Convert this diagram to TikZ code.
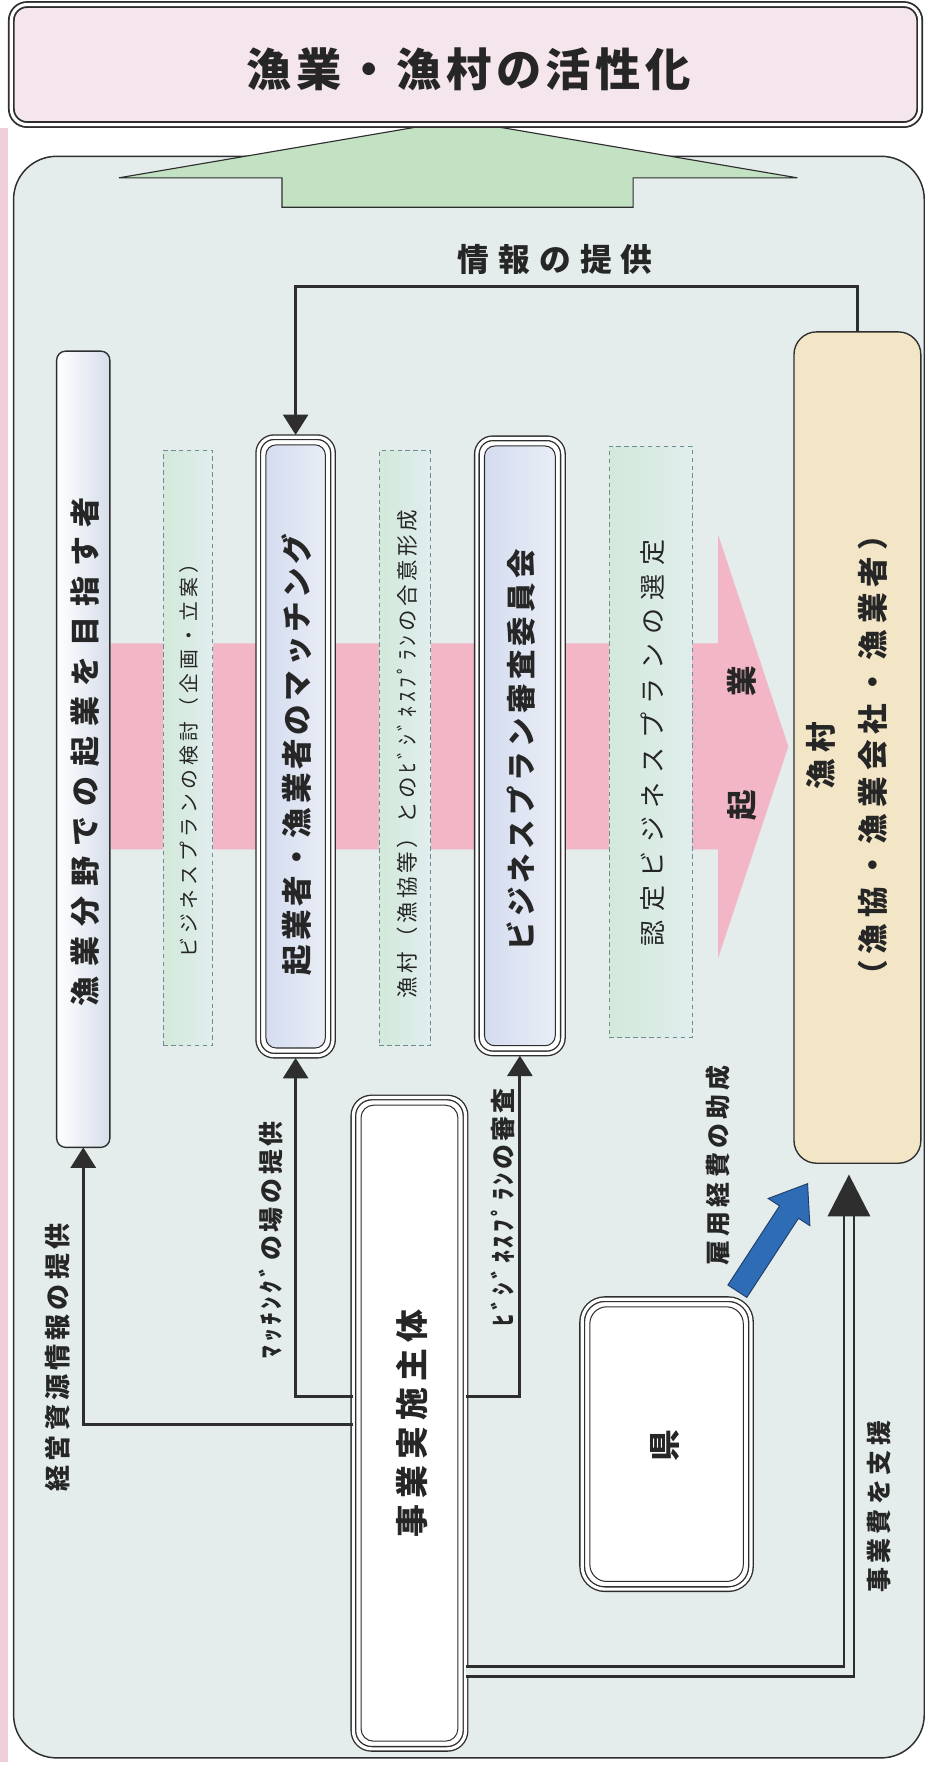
\documentclass[tikz,border=0pt]{standalone}
\usepackage{fontspec}
\setmainfont{Noto Sans CJK JP}
\usetikzlibrary{arrows.meta,calc}
\definecolor{dk}{HTML}{2E2E2E}
\definecolor{txt}{HTML}{262626}
\definecolor{panelC}{HTML}{E4ECEC}
\definecolor{titleC}{HTML}{F5E5EC}
\definecolor{greenC}{HTML}{C3E2C3}
\definecolor{pinkC}{HTML}{F2B6C7}
\definecolor{stripC}{HTML}{F0CFDA}
\definecolor{dashC}{HTML}{D3E9DA}
\definecolor{dashC2}{HTML}{E0EDEE}
\definecolor{dashL}{HTML}{6C8E92}
\definecolor{lavC}{HTML}{D4DCEF}
\definecolor{lavC2}{HTML}{E9EDF6}
\definecolor{beigeC}{HTML}{F2E6C7}
\definecolor{blueC}{HTML}{2F6CB6}
\definecolor{blueD}{HTML}{1E3E68}
\definecolor{wbC}{HTML}{D6DEEA}
\newcommand{\jt}[3]{\fontsize{#1}{#1}\selectfont\addfontfeature{LetterSpace=#2}#3}
\begin{document}
\begin{tikzpicture}[x=1pt,y=-1pt,
  box/.style={inner sep=0pt, outer sep=0pt},
  dbl/.style={box, draw=dk, line width=1.2pt, double=white, double distance=2.8pt},
  inb/.style={box, draw=dk, line width=0.9pt},
  dashbox/.style={box, draw=dashL, line width=0.9pt, dash pattern=on 4pt off 3pt, left color=dashC, right color=dashC2},
  lbl/.style={inner sep=0pt, text=txt, font=\bfseries},
  lblr/.style={inner sep=0pt, text=txt},
  conn/.style={draw=dk, line width=2.6pt, -{Triangle[length=18pt,width=22pt]}},
  dconn/.style={draw=dk, line width=2.4pt, double=panelC, double distance=6.4pt},
]
\useasboundingbox (0,0) rectangle (821,1568);
\fill[white] (0,0) rectangle (821,1568);
\fill[stripC] (0,113) rectangle (7,1556);
% main panel
\node[box, draw=dk, line width=1.3pt, fill=panelC, rounded corners=38pt,
      minimum width=804pt, minimum height=1414pt] (panel) at (414,845) {};
% green arrow up
\draw[draw=dk, line width=1pt, fill=greenC]
  (249,183) -- (249,157) -- (105,157) -- (404,106) -- (704,157) -- (559,157) -- (559,183) -- cycle;
% title
\node[dbl, line width=1.6pt, rounded corners=14pt, fill=titleC,
      minimum width=802pt, minimum height=106pt] (title) at (411,57) {};
\node[lbl] (titleT) at (414,61) {\jt{40}{10}{漁業・漁村の活性化}};
% pink arrow
\fill[pinkC] (98,568) -- (634,568) -- (634,472) -- (696,659) -- (634,846) -- (634,750) -- (98,750) -- cycle;
\node[lbl, rotate=90] (kiT) at (655,711) {\jt{27}{0}{起}};
\node[lbl, rotate=90] (gyoT) at (655,601) {\jt{27}{0}{業}};
% white box
\node[box, draw=dk, line width=1.2pt, rounded corners=8pt, left color=white, right color=wbC,
      minimum width=47pt, minimum height=703pt] (white) at (73.5,661.5) {};
\node[lbl, rotate=90] (whiteT) at (75,663.5) {\jt{26.5}{33}{漁業分野での起業を目指す者}};
% dashed boxes
\node[dashbox, minimum width=44pt, minimum height=525pt] (dash1) at (166,660.5) {};
\node[lblr, rotate=90] (dash1T) at (167,667) {\jt{17.5}{21}{ビジネスプランの検討（企画・立案）}};
\node[dashbox, minimum width=45pt, minimum height=525pt] (dash2) at (357.5,660.5) {};
\node[lblr, rotate=90] (dash2T) at (360,666) {\jt{19}{16}{漁村（漁協等）とのﾋﾞｼﾞﾈｽﾌﾟﾗﾝの合意形成}};
\node[dashbox, minimum width=73pt, minimum height=522pt] (dash3) at (574.5,655) {};
\node[lblr, rotate=90, font=\mdseries] (dash3T) at (576,656) {\jt{23}{33}{認定ビジネスプランの選定}};
% matching box
\node[dbl, rounded corners=14pt, fill=white, minimum width=66pt, minimum height=546pt] (match) at (261,659) {};
\node[inb, rounded corners=9pt, left color=lavC, right color=lavC2, minimum width=52.5pt, minimum height=532.5pt] (matchIn) at (261,659) {};
\node[lbl, rotate=90] (matchT) at (262,666) {\jt{27}{12}{起業者・漁業者のマッチング}};
% review box
\node[dbl, rounded corners=14pt, fill=white, minimum width=76pt, minimum height=543pt] (review) at (459,658.5) {};
\node[inb, rounded corners=9pt, left color=lavC, right color=lavC2, minimum width=62.5pt, minimum height=529.5pt] (reviewIn) at (459,658.5) {};
\node[lbl, rotate=90] (reviewT) at (460,662) {\jt{26}{15}{ビジネスプラン審査委員会}};
% gyoson box
\node[box, draw=dk, line width=1.2pt, rounded corners=20pt, fill=beigeC,
      minimum width=112pt, minimum height=734pt] (gyoson) at (757,660) {};
\node[lbl, rotate=90, align=center, font=\bfseries\fontsize{27}{46}\selectfont] (gyosonT) at (748,667)
  {\addfontfeature{LetterSpace=20}漁村\\\addfontfeature{LetterSpace=20}（漁協・漁業会社・漁業者）};
% jigyo box
\node[dbl, rounded corners=16pt, fill=white, minimum width=99pt, minimum height=575pt] (jigyo) at (361.5,1256.5) {};
\node[inb, rounded corners=11pt, fill=white, minimum width=85.5pt, minimum height=561.5pt] (jigyoIn) at (361.5,1256.5) {};
\node[lbl, rotate=90] (jigyoT) at (364,1257) {\jt{29}{19}{事業実施主体}};
% ken box
\node[dbl, rounded corners=20pt, fill=white, minimum width=149pt, minimum height=256pt] (ken) at (588.5,1275) {};
\node[inb, rounded corners=15pt, fill=white, minimum width=135.5pt, minimum height=242.5pt] (kenIn) at (588.5,1275) {};
\node[lbl, rotate=90] (kenT) at (587,1276) {\jt{28}{0}{県}};
% helper coordinates
\coordinate (yW) at (0,1258);
\coordinate (yM) at (0,1233);
\coordinate (yS) at (0,1476);
\coordinate (yI) at (0,253);
\coordinate (xS) at (749.5,0);
% connectors
\draw[conn] (jigyo.west |- yW) -| (white.south);
\draw[conn, shorten >=2pt] (jigyo.west |- yM) -| (match.south);
\draw[conn, shorten >=2pt] (jigyo.east |- yM) -| (review.south);
\draw[conn, shorten >=2pt] (gyoson.north) -- (gyoson.north |- yI) -| (match.north);
\node[lbl] (infoT) at (490,229) {\jt{28}{29}{情報の提供}};
\node[lbl, rotate=90] (keieiT) at (51,1198.5) {\jt{23}{16}{経営資源情報の提供}};
\node[lbl, rotate=90] (matchL) at (239.5,1094.5) {\jt{22}{15}{ﾏｯﾁﾝｸﾞの場の提供}};
\node[lbl, rotate=90] (reviewL) at (444,1066) {\jt{22}{13}{ﾋﾞｼﾞﾈｽﾌﾟﾗﾝの審査}};
% support double connector
\coordinate (sTip) at ($(xS |- gyoson.south)+(0,10)$);
\draw[dconn] (jigyo.east |- yS) -| ($(sTip)+(0,35)$);
\fill[dk] (sTip) -- ++(-19,37) -- ++(38,0) -- cycle;
\node[lbl, rotate=90] (shienT) at (776.5,1330.5) {\jt{22}{18}{事業費を支援}};
% blue arrow
\coordinate (bA) at ($(ken.north east)+(-12,-7)$);
\coordinate (bT) at ($(gyoson.south west)+(12,18)$);
\coordinate (bB) at ($(bT)!30pt!(bA)$);
\draw[draw=blueD, line width=0.8pt, fill=blueC, line join=miter]
  ($(bA)!10pt!90:(bT)$) -- ($(bB)!10pt!-90:(bA)$) -- ($(bB)!22pt!-90:(bA)$) -- (bT)
  -- ($(bB)!22pt!90:(bA)$) -- ($(bB)!10pt!90:(bA)$) -- ($(bA)!10pt!-90:(bT)$) -- cycle;
\node[lbl, rotate=90] (koyoT) at (633.5,1029) {\jt{22}{17}{雇用経費の助成}};
\end{tikzpicture}
\end{document}
